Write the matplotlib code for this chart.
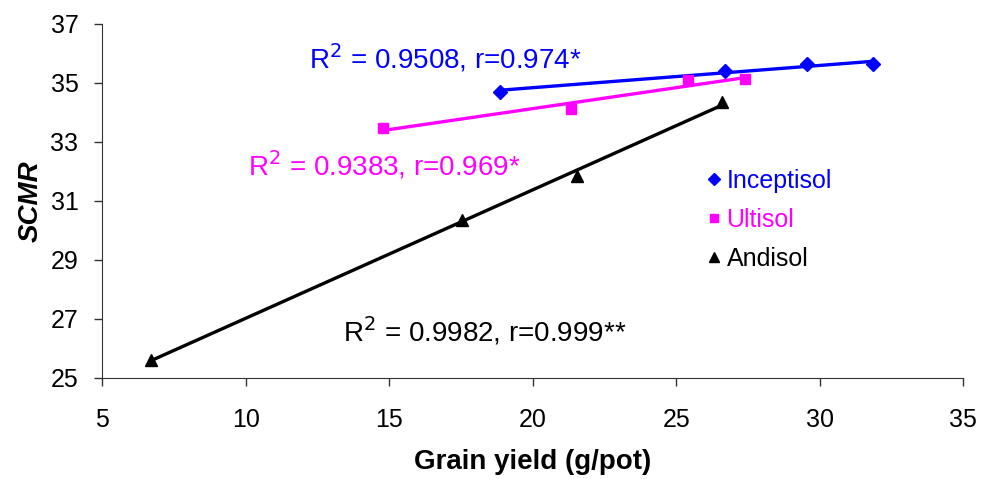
import numpy as np
import matplotlib
matplotlib.use("Agg")
import matplotlib.pyplot as plt

plt.rcParams['font.family'] = ['Liberation Sans', 'DejaVu Sans']

# values
incep_x = [18.85, 26.7, 29.55, 31.85]
incep_y = [34.71, 35.42, 35.63, 35.63]
ulti_x = [14.8, 21.35, 25.4, 27.4]
ulti_y = [33.46, 34.11, 35.10, 35.12]
andi_x = [6.7, 17.55, 21.55, 26.6]
andi_y = [25.61, 30.36, 31.85, 34.37]

series = [
    ("Inceptisol", incep_x, incep_y, "#0000FF", "D", 7.5),
    ("Ultisol", ulti_x, ulti_y, "#FF00FF", "s", 7),
    ("Andisol", andi_x, andi_y, "#000000", "^", 8),
]
eq_labels = ["R$^2$ = 0.9508, r=0.974*", "R$^2$ = 0.9383, r=0.969*", "R$^2$ = 0.9982, r=0.999**"]
eq_pos = [(12.2, 35.85), (10.1, 32.2), (13.4, 26.6)]

fig = plt.figure(figsize=(9.81, 4.79), dpi=100)
ax = fig.add_axes([0.104, 0.211, 0.878, 0.739])

for (name, x, y, c, m, ms), lab, pos in zip(series, eq_labels, eq_pos):
    ax.plot(x, y, linestyle='none', marker=m, color=c, markersize=ms, label=name)
    k, b = np.polyfit(x, y, 1)
    xx = np.array([min(x), max(x)])
    ax.plot(xx, k * xx + b, color=c, linewidth=2.4)
    ax.text(pos[0], pos[1], lab, color=c, fontsize=20, va='center')

ax.set_xlim(5, 35)
ax.set_ylim(25, 37)
ax.set_xticks(range(5, 36, 5))
ax.set_yticks(range(25, 38, 2))
ax.tick_params(labelsize=18, length=6, width=1, color='#333333')
ax.tick_params(axis='x', pad=16)
ax.tick_params(axis='y', pad=11)
for s in ['top', 'right']:
    ax.spines[s].set_visible(False)
for s in ['left', 'bottom']:
    ax.spines[s].set_color('#333333')

ax.set_xlabel("Grain yield (g/pot)", fontsize=20, fontweight='bold', labelpad=12)
ax.set_ylabel("SCMR", fontsize=20, fontweight='bold', style='italic', labelpad=5)

leg = ax.legend(loc='upper left', bbox_to_anchor=(0.67, 0.655), frameon=False,
                fontsize=18, handletextpad=0.0, handlelength=1.0, labelspacing=0.6,
                markerscale=0.85)
for t, (_, _, _, c, _, _) in zip(leg.get_texts(), series):
    t.set_color(c)

fig.savefig("out.png", dpi=100)
